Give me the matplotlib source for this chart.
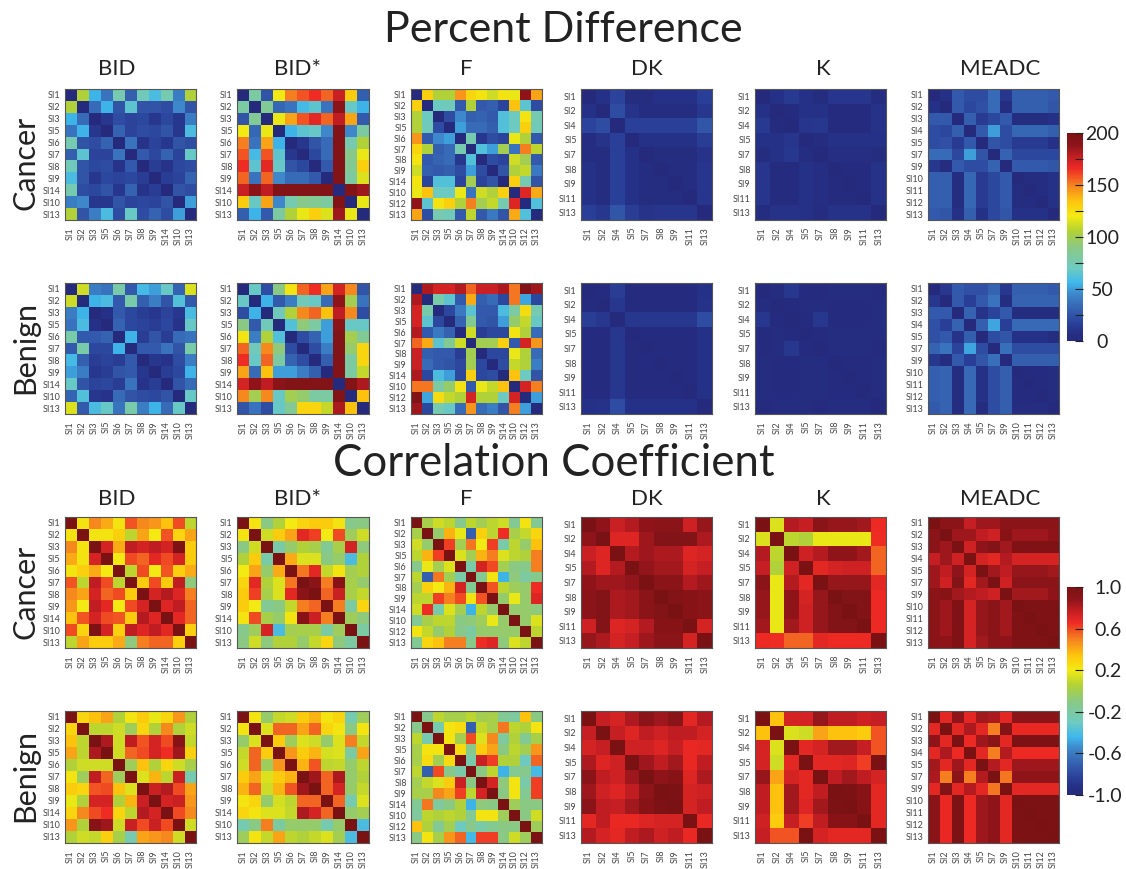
import numpy as np
import matplotlib
matplotlib.use('Agg')
import matplotlib.pyplot as plt
from matplotlib.colors import LinearSegmentedColormap
from matplotlib.cm import ScalarMappable
from matplotlib.colors import Normalize

plt.rcParams['font.family'] = ['Lato', 'DejaVu Sans']

W, H = 1126, 869

# labels of each method (same order in x and y)
labels_bid = ['SI1', 'SI2', 'SI3', 'SI5', 'SI6', 'SI7', 'SI8', 'SI9', 'SI14', 'SI10', 'SI13']
labels_f = ['SI1', 'SI2', 'SI3', 'SI5', 'SI6', 'SI7', 'SI8', 'SI9', 'SI14', 'SI10', 'SI12', 'SI13']
labels_dk = ['SI1', 'SI2', 'SI4', 'SI5', 'SI7', 'SI8', 'SI9', 'SI11', 'SI13']
labels_meadc = ['SI1', 'SI2', 'SI3', 'SI4', 'SI5', 'SI7', 'SI9', 'SI10', 'SI11', 'SI12', 'SI13']
methods = ['BID', 'BID*', 'F', 'DK', 'K', 'MEADC']
method_labels = [labels_bid, labels_bid, labels_f, labels_dk, labels_dk, labels_meadc]

# upper triangles, diagonal left out
# percent difference
pd_c_bid = [[105,55,38,75,30,72,60,75,42,105],[35,55,25,65,25,25,22,45,25],[12,22,18,20,12,20,12,42],
            [32,18,22,20,25,12,60],[38,10,18,12,25,22],[28,20,32,18,68],[15,10,20,22],[15,18,32],[25,22],[50]]
pd_c_bids = [[80,25,120,150,158,165,155,175,132,30],[85,33,38,58,65,38,190,68,55],[118,142,158,168,155,178,142,28],
             [55,65,68,45,195,45,80],[12,25,35,195,75,105],[20,35,195,88,118],[28,195,85,130],[195,80,115],[195,185],[118]]
pd_c_f = [[130,105,105,145,128,122,112,122,118,188,142],[70,72,28,105,28,30,18,135,65,22],[22,45,30,32,28,62,70,122,75],
          [50,35,35,30,62,70,130,72],[75,12,22,18,118,105,28],[62,50,100,38,150,108],[22,18,112,100,28],[25,105,110,40],
          [130,75,25],[170,140],[62]]
pd_c_dk = [[8,18,5,5,8,8,8,16],[22,10,5,5,5,5,12],[17,17,17,17,17,26],[8,8,8,8,15],[6,6,6,10],[5,5,11],[5,11],[11]]
pd_c_k = [[8,13,8,5,11,11,11,5],[4,8,8,4,4,4,9],[11,12,4,4,4,9],[5,8,8,8,8],[7,7,7,5],[4,4,9],[4,9],[9]]
pd_c_meadc = [[8,28,22,22,35,12,30,30,30,28],[28,20,24,35,6,30,30,30,26],[30,14,20,28,5,5,5,8],[28,50,22,33,33,33,30],
              [25,22,14,14,14,8],[32,20,20,20,20],[28,28,28,26],[5,5,8],[5,8],[8]]

pd_b_bid = [[112,42,38,78,28,58,50,68,32,115],[55,60,28,78,30,42,25,62,28],[8,28,20,15,12,18,12,60],
            [32,20,18,15,20,10,68],[55,15,25,15,35,38],[28,28,38,25,78],[12,10,22,42],[15,20,55],[25,35],[68]]
pd_b_bids = [[68,22,90,122,155,165,142,172,148,25],[55,28,42,72,68,35,188,100,38],[72,105,148,155,135,178,148,22],
             [62,92,80,50,190,68,68],[22,32,50,195,100,85],[22,42,195,95,128],[30,195,80,128],[195,80,110],[195,182],[135]]
pd_b_f = [[182,172,172,180,155,175,175,182,152,195,185],[78,65,28,140,30,35,20,152,52,20],[20,40,65,28,28,60,80,125,75],
          [32,85,28,25,50,95,110,68],[112,15,20,20,122,105,35],[100,100,130,28,172,145],[20,20,118,105,35],[22,110,105,42],
          [135,70,25],[172,150],[50]]
pd_b_dk = [[3,15,3,3,3,3,3,8],[12,3,3,3,3,3,9],[12,12,12,12,12,22],[4,4,4,4,8],[4,4,4,8],[4,4,8],[4,8],[8]]
pd_b_k = [[6,12,4,3,6,6,6,3],[3,5,5,3,3,3,6],[4,12,3,3,3,6],[3,6,6,6,5],[5,5,5,3],[3,3,6],[3,6],[6]]
pd_b_meadc = [[12,28,24,24,32,12,30,30,30,28],[28,16,28,38,5,32,32,32,32],[32,10,18,28,5,5,5,5],[30,52,16,34,34,34,34],
              [22,26,8,8,8,5],[36,22,22,22,22],[30,30,30,30],[4,4,6],[4,6],[6]]

# correlation coefficient, in hundredths
cc_c_bid = [[22,48,40,22,58,48,45,35,60,8],[22,22,30,8,42,20,58,28,42],[72,40,78,72,78,72,98,32],[20,60,55,68,60,72,32],
            [8,60,20,58,30,40],[32,60,32,78,-8],[72,80,70,50],[70,78,55],[68,55],[30]]
cc_c_bids = [[22,-10,5,20,28,32,32,22,-12,-10],[12,32,42,68,62,20,60,-2,12],[-22,-5,5,2,-15,2,72,-8],[40,15,15,-10,-5,-40,5],
             [52,68,10,22,0,5],[90,50,92,2,-5],[55,75,2,10],[50,-20,28],[-2,-8],[-20]]
cc_c_f = [[2,12,8,-12,8,0,8,12,-15,22,-15],[-5,38,18,-70,30,8,65,2,10,28],[62,0,52,20,62,-22,8,-5,35],[15,0,38,50,15,8,5,50],
          [-22,72,60,0,-10,-12,50],[-15,22,-45,-8,-20,-12],[58,8,-2,-5,65],[-5,18,-5,70],[-5,-5,-8],[-5,15],[8]]
cc_c_dk = [[88,75,80,88,90,90,74,86],[70,70,85,95,95,95,82],[80,85,82,82,70,72],[87,84,84,72,76],[90,90,80,85],[95,92,90],[92,90],[72]]
cc_c_k = [[15,80,76,90,86,86,84,66],[8,5,18,18,18,18,65],[74,80,88,88,84,55],[68,72,74,74,55],[86,86,86,68],[95,95,66],[95,66],[66]]
cc_c_meadc = [[90,90,76,85,85,90,90,90,90,90],[85,85,78,74,92,85,85,85,88],[74,88,95,84,96,96,96,96],[72,68,80,72,72,72,72],
              [84,78,86,86,86,84],[74,90,90,90,90],[84,84,84,88],[97,97,97],[97,97],[97]]

cc_b_bid = [[28,35,42,5,22,32,18,28,45,5],[8,8,12,-2,28,5,48,5,12],[82,12,78,58,72,60,92,10],[12,55,60,72,65,85,30],
            [-2,35,5,28,12,2],[15,38,8,75,-25],[75,80,60,42],[72,75,45],[60,48],[12]]
cc_b_bids = [[22,-5,10,12,32,38,22,28,-25,-2],[15,55,55,42,55,28,22,-10,22],[32,-2,15,12,-5,15,50,10],[45,32,38,14,15,-20,42],
             [38,58,8,10,-5,8],[85,55,82,-5,5],[55,72,-5,10],[55,-25,15],[-5,0],[-40]]
cc_b_f = [[-12,8,2,2,8,0,2,-15,-18,35,-10],[-25,22,25,-70,10,2,52,8,5,22],[22,0,60,15,48,-18,5,-15,2],[25,-12,32,42,-10,8,0,45],
          [-22,75,62,5,5,-30,55],[-10,8,-45,-15,-12,-42],[72,-8,22,-22,62],[-10,22,-15,62],[-2,-10,-10],[-10,12],[-2]]
cc_b_dk = [[76,72,82,90,85,90,68,80],[76,70,78,74,78,78,72],[74,74,70,76,67,68],[85,78,84,67,78],[88,92,70,82],[98,72,74],[72,78],[67]]
cc_b_k = [[35,72,72,86,78,78,74,76],[15,12,42,35,35,32,58],[68,72,84,84,76,58],[68,68,70,62],[78,84,78,72],[98,92,68],[92,68],[68]]
cc_b_meadc = [[68,88,68,84,82,68,90,90,90,90],[68,82,68,50,95,67,67,67,67],[66,85,90,68,98,98,98,98],[68,50,80,66,66,66,66],
              [80,68,85,85,85,85],[52,88,88,88,88],[68,68,68,68],[98,98,98],[98,98],[98]]

grid_pd = [[pd_c_bid, pd_c_bids, pd_c_f, pd_c_dk, pd_c_k, pd_c_meadc],
           [pd_b_bid, pd_b_bids, pd_b_f, pd_b_dk, pd_b_k, pd_b_meadc]]
grid_cc = [[cc_c_bid, cc_c_bids, cc_c_f, cc_c_dk, cc_c_k, cc_c_meadc],
           [cc_b_bid, cc_b_bids, cc_b_f, cc_b_dk, cc_b_k, cc_b_meadc]]

# jet as it looks after the CMYK conversion of the original figure
cmap = LinearSegmentedColormap.from_list('jet_cmyk', [
    (0.00, '#252a7c'), (0.03, '#252e82'), (0.08, '#2a3f98'), (0.15, '#3560b0'), (0.22, '#3d84c8'), (0.28, '#3fb8ec'),
    (0.35, '#6ecbc0'), (0.45, '#8ac985'), (0.53, '#b3d235'), (0.60, '#f2ea13'), (0.67, '#fdc60d'),
    (0.75, '#f58220'), (0.83, '#ee2a24'), (0.89, '#c01e23'), (0.94, '#8f151a'), (1.00, '#7a1214')])


def px_axes(x0, y0, x1, y1):
    return fig.add_axes([x0 / W, 1 - y1 / H, (x1 - x0) / W, (y1 - y0) / H])


def full_matrix(tri, diag):
    # mirror the upper triangle
    n = len(tri) + 1
    m = np.full((n, n), float(diag))
    for i, row in enumerate(tri):
        for j, v in enumerate(row):
            m[i, i + 1 + j] = v
            m[i + 1 + j, i] = v
    return m


def heatmap(x, y, tri, labs, diag, vmin, vmax):
    ax = px_axes(x[0], y[0], x[1], y[1])
    ax.imshow(full_matrix(tri, diag), cmap=cmap, vmin=vmin, vmax=vmax, aspect='auto', interpolation='nearest')
    ax.set_xticks(range(len(labs)))
    ax.set_yticks(range(len(labs)))
    ax.set_xticklabels(labs, rotation=90, fontsize=6.5, color='#444444')
    ax.set_yticklabels(labs, fontsize=6.5, color='#444444')
    ax.tick_params(length=0, pad=3)
    ax.tick_params(axis='x', pad=5)
    for s in ax.spines.values():
        s.set_color('#555555')
        s.set_linewidth(0.8)


def color_bar(y0, y1, vmin, vmax, ticks, labs, align, pad):
    cax = px_axes(1067, y0, 1083, y1)
    cb = fig.colorbar(ScalarMappable(Normalize(vmin, vmax), cmap), cax=cax)
    cb.outline.set_visible(False)
    cb.set_ticks(ticks)
    cb.set_ticklabels(labs, fontsize=14, color='#222222')
    cax.tick_params(direction='in', length=6, width=0.8, color='#222222', pad=pad)
    for t in cax.get_yticklabels():
        t.set_ha(align)


fig = plt.figure(figsize=(W / 100, H / 100), dpi=100)

col_x = [(64.5, 196), (237, 369), (411, 542), (581, 712), (755, 886), (927.5, 1059)]
rows_pd = [(89, 220), (283, 414)]
rows_cc = [(517, 648), (711, 843)]
title_x = [117, 297, 466, 647, 823, 1000]

for r in range(2):
    for c in range(6):
        heatmap(col_x[c], rows_pd[r], grid_pd[r][c], method_labels[c], 0, 0, 200)
        heatmap(col_x[c], rows_cc[r], [[v / 100 for v in row] for row in grid_cc[r][c]], method_labels[c], 1, -1, 1)

for c in range(6):
    fig.text(title_x[c] / W, 1 - 69 / H, methods[c], fontsize=16, ha='center', va='center', color='#222222')
    fig.text(title_x[c] / W, 1 - 499 / H, methods[c], fontsize=16, ha='center', va='center', color='#222222')

fig.text(563 / W, 1 - 30 / H, 'Percent Difference', fontsize=31, ha='center', va='center', color='#222222')
fig.text(554 / W, 1 - 464 / H, 'Correlation Coefficient', fontsize=31.5, ha='center', va='center', color='#222222')

for name, yc in [('Cancer', 163), ('Benign', 348), ('Cancer', 592), ('Benign', 775)]:
    fig.text(25 / W, 1 - yc / H, name, fontsize=22, rotation=90, ha='center', va='center', color='#222222')

color_bar(133, 341, 0, 200, [0, 25, 50, 75, 100, 125, 150, 175, 200], ['0', '', '50', '', '100', '', '150', '', '200'], 'center', 14)
color_bar(587, 795, -1, 1, [-1, -0.6, -0.2, 0.2, 0.6, 1], ['-1.0', '-0.6', '-0.2', '0.2', '0.6', '1.0'], 'right', 28)

fig.savefig('out.png', dpi=100)
